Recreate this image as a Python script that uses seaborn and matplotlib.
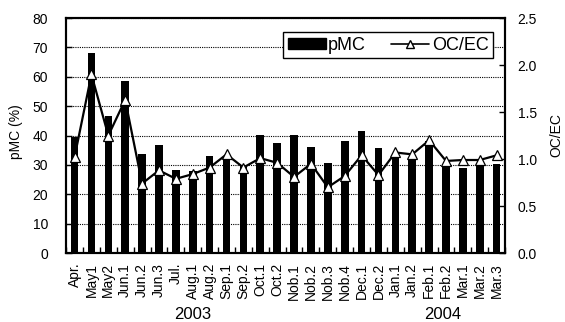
import numpy as np
import pandas as pd
import matplotlib
matplotlib.use("Agg")
import matplotlib.pyplot as plt
import matplotlib.transforms as mtransforms
from matplotlib.lines import Line2D
from matplotlib.patches import Patch
import seaborn as sns

# Sampling periods, Apr. 2003 – Mar. 2004
samples = ["Apr.", "May1", "May2", "Jun.1", "Jun.2", "Jun.3", "Jul.", "Aug.1",
           "Aug.2", "Sep.1", "Sep.2", "Oct.1", "Oct.2", "Nob.1", "Nob.2", "Nob.3",
           "Nob.4", "Dec.1", "Dec.2", "Jan.1", "Jan.2", "Feb.1", "Feb.2", "Mar.1",
           "Mar.2", "Mar.3"]
# percent modern carbon
pmc = [39.5, 68.0, 46.8, 58.4, 33.7, 36.8, 28.3, 28.0,
       33.2, 32.5, 29.7, 40.3, 37.5, 40.3, 36.0, 30.5,
       38.1, 41.6, 35.7, 32.8, 32.5, 38.2, 30.0, 29.1,
       29.8, 30.2]
# organic / elemental carbon ratio
oc_ec = [1.02, 1.90, 1.25, 1.63, 0.74, 0.88, 0.79, 0.84,
         0.91, 1.05, 0.91, 1.01, 0.96, 0.81, 0.95, 0.70,
         0.82, 1.04, 0.83, 1.07, 1.05, 1.20, 0.98, 0.99,
         0.99, 1.04]
years = ["2003", "2004"]
year_pos = [7.0, 21.8]

sns.set_theme(style="white")
plt.rcParams["font.family"] = ["Liberation Sans", "DejaVu Sans"]
plt.rcParams.update({"text.color": "black", "axes.labelcolor": "black",
                     "xtick.color": "black", "ytick.color": "black"})

TICK_FS = 10

df = pd.DataFrame({"sample": samples, "pMC": pmc, "OC/EC": oc_ec})
df["pos"] = np.arange(len(df))

fig = plt.figure(figsize=(5.65, 3.22), dpi=100)
ax = fig.add_axes([0.117, 0.214, 0.777, 0.730])

sns.barplot(data=df, x="sample", y="pMC", color="black", saturation=1,
            width=0.45, linewidth=0, ax=ax)
ax.set_xlim(-0.5, len(samples) - 0.5)
ax.set_ylim(0, 80)
ax.set_yticks(np.arange(0, 81, 10))
ax.set_axisbelow(True)
ax.yaxis.grid(True, linestyle=(0, (1, 1)), color="black", linewidth=0.8)
ax.xaxis.grid(False)

ax.set_xticks(np.arange(len(samples)))
ax.set_xticklabels(samples, rotation=90, fontsize=TICK_FS)
ax.set_xticks(np.arange(-0.5, len(samples), 1.0), minor=True)
ax.tick_params(axis="x", which="major", length=0, pad=7)
ax.tick_params(axis="x", which="minor", direction="in", length=4,
               width=1, color="black", bottom=True)
ax.tick_params(axis="y", direction="in", length=4, width=1, color="black",
               left=True, labelsize=TICK_FS, pad=13)
ax.set_xlabel("")
ax.set_ylabel("pMC (%)", fontsize=TICK_FS)
ax.yaxis.set_label_coords(-0.098, 0.515)

ax2 = ax.twinx()
sns.lineplot(data=df, x="pos", y="OC/EC", color="black", linewidth=1.6,
             marker="^", markersize=7, markerfacecolor="white",
             markeredgecolor="black", markeredgewidth=0.9, ax=ax2)
ax2.set_ylim(0, 2.5)
ax2.set_yticks(np.arange(0, 2.51, 0.5))
ax2.set_yticklabels([f"{v:.1f}" for v in np.arange(0, 2.51, 0.5)])
ax2.tick_params(axis="y", direction="in", length=4, width=1, color="black",
                right=True, labelsize=TICK_FS, pad=9)
ax2.set_xlim(-0.5, len(samples) - 0.5)
ax2.set_xlabel("")
ax2.set_ylabel("OC/EC", fontsize=TICK_FS, rotation=90)
ax2.yaxis.set_label_coords(1.100, 0.50)

for a in (ax, ax2):
    for s in a.spines.values():
        s.set_visible(True)
        s.set_color("black")
        s.set_linewidth(1.5)

trans = mtransforms.blended_transform_factory(ax.transData, fig.transFigure)
for label, pos in zip(years, year_pos):
    ax.text(pos, 0.022, label, transform=trans, ha="center", va="center",
            fontsize=12)

handles = [Patch(facecolor="black", edgecolor="black"),
           Line2D([], [], color="black", linewidth=1.2, marker="^",
                  markersize=6, markerfacecolor="white",
                  markeredgecolor="black")]
leg = ax2.legend(handles, ["pMC", "OC/EC"], ncol=2, loc="upper right",
                 bbox_to_anchor=(0.973, 0.94), frameon=True, fancybox=False,
                 edgecolor="black", framealpha=1, fontsize=13,
                 handlelength=2.1, handleheight=0.6, columnspacing=1.4,
                 handletextpad=0.15, borderaxespad=0, borderpad=0.25)
leg.get_frame().set_linewidth(1.0)

fig.savefig("out.png", dpi=100)
